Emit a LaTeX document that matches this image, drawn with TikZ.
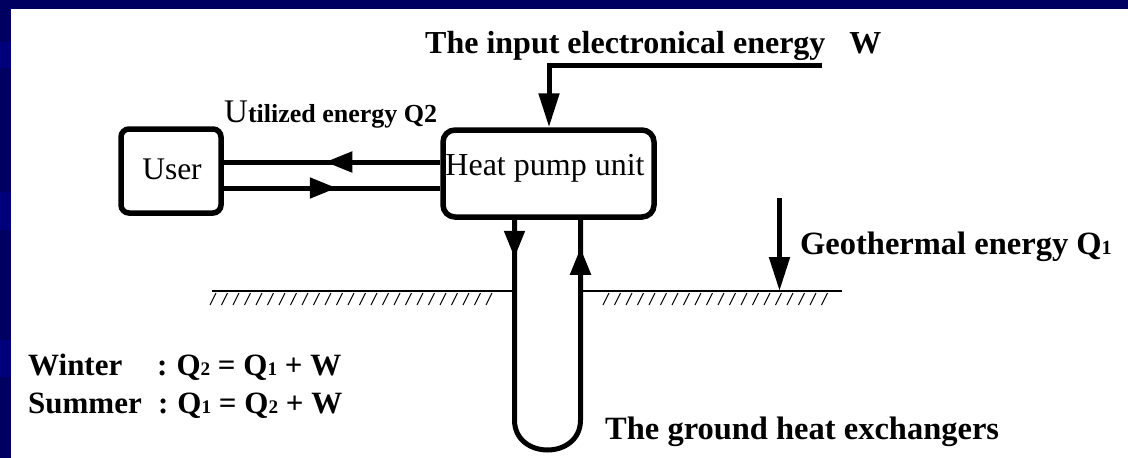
\documentclass[tikz,border=0pt]{standalone}
\usepackage{fontspec}
\setmainfont{Liberation Serif}
\usepackage{graphicx}
\usetikzlibrary{arrows.meta,decorations.markings}
\definecolor{navy}{RGB}{0,0,96}
\definecolor{navyband}{RGB}{0,0,124}
\newcommand\sd[1]{\scalebox{0.62}{#1}}
\newcommand\fs[1]{\fontsize{#1}{#1}\selectfont}
\begin{document}
\begin{tikzpicture}[x=1pt,y=-1pt,
  box/.style={draw, line width=5.5pt, inner sep=0pt, rounded corners=#1},
  pipe/.style={line width=5pt},
  tri/.tip={Triangle[length=27pt,width=20pt]},
  tribig/.tip={Triangle[length=34pt,width=20pt]},
  txt/.style={inner sep=0pt, anchor=base west},
  ctxt/.style={inner sep=0pt, anchor=base},
  marrow/.style={postaction={decorate,decoration={markings,mark=at position #1 with {\arrow{tri}}}}},
  ground/.style={line width=1.6pt},
  hatch/.style={line width=1.1pt}
]
% background and frame
\useasboundingbox (0,0) rectangle (1128,458);
\fill[white] (-20,-20) rectangle (1150,480);
\fill[navy] (-20,-20) rectangle (1150,9);
\fill[navy] (-20,-20) rectangle (11,480);
\fill[navyband] (-20,42) rectangle (11,68);
\fill[navyband] (-20,192) rectangle (11,230);
\fill[navyband] (-20,340) rectangle (11,377);

% boxes
\node[box=8pt, minimum width=100pt, minimum height=84pt] (user) at (171,171) {};
\node[box=12pt, minimum width=211pt, minimum height=87pt] (hp) at (548.5,173.5) {};
\node[ctxt, font=\fs{31.5pt}] (usertext) at (172,179) {User};
\node[ctxt, font=\fs{32pt}] (hptext) at (545,175) {Heat pump unit};

% texts
\node[txt, font=\fs{32pt}\bfseries] (wtext) at (425,53) {The input electronical energy\hspace{24pt}W};
\node[txt] (qtext) at (224,122) {{\fs{33pt}U}{\fs{26pt}\bfseries tilized energy Q2}};
\node[txt, font=\fs{32.5pt}\bfseries] (geotext) at (800,254) {Geothermal energy Q\sd{1}};
\node[txt, font=\fs{32.5pt}\bfseries] (gtext) at (605,439) {The ground heat exchangers};
\node[txt, font=\fs{31pt}\bfseries] (winter) at (28,375) {\makebox[129pt][l]{Winter}:\hspace{9pt}Q\sd{2} = Q\sd{1} + W};
\node[txt, font=\fs{31pt}\bfseries] (summer) at (28,413) {\makebox[130pt][l]{Summer}:\hspace{9pt}Q\sd{1} = Q\sd{2} + W};

% connectors
\coordinate (win) at (822,65.5);
\draw[pipe, -{tribig}] (win) -- (549,65.5) -- (hp.north -| 549,0);
\draw[pipe, marrow=115pt] (hp.west |- 0,162) -- (user.east |- 0,162);
\draw[pipe, marrow=113pt] (user.east |- 0,188) -- (hp.west |- 0,188);
\draw[pipe, marrow=38pt, marrow=-28pt] (hp.south -| 514.5,0) -- (514.5,420)
  .. controls (514.5,460) and (580.5,460) .. (580.5,420) -- (hp.south -| 580.5,0);
\coordinate (geotop) at (779.5,198);
\coordinate (geoground) at (779.5,291);
\draw[pipe, -{tribig}] (geotop) -- (geoground);

% ground surface
\draw[ground] (212,291) -- (514.5,291);
\draw[ground] (580.5,291) -- (842,291);
\foreach \i in {0,...,24} \draw[hatch] (210+11.5*\i,305) -- ++(6,-12);
\foreach \i in {0,...,19} \draw[hatch] (603+11.5*\i,305) -- ++(6,-12);
\end{tikzpicture}
\end{document}
